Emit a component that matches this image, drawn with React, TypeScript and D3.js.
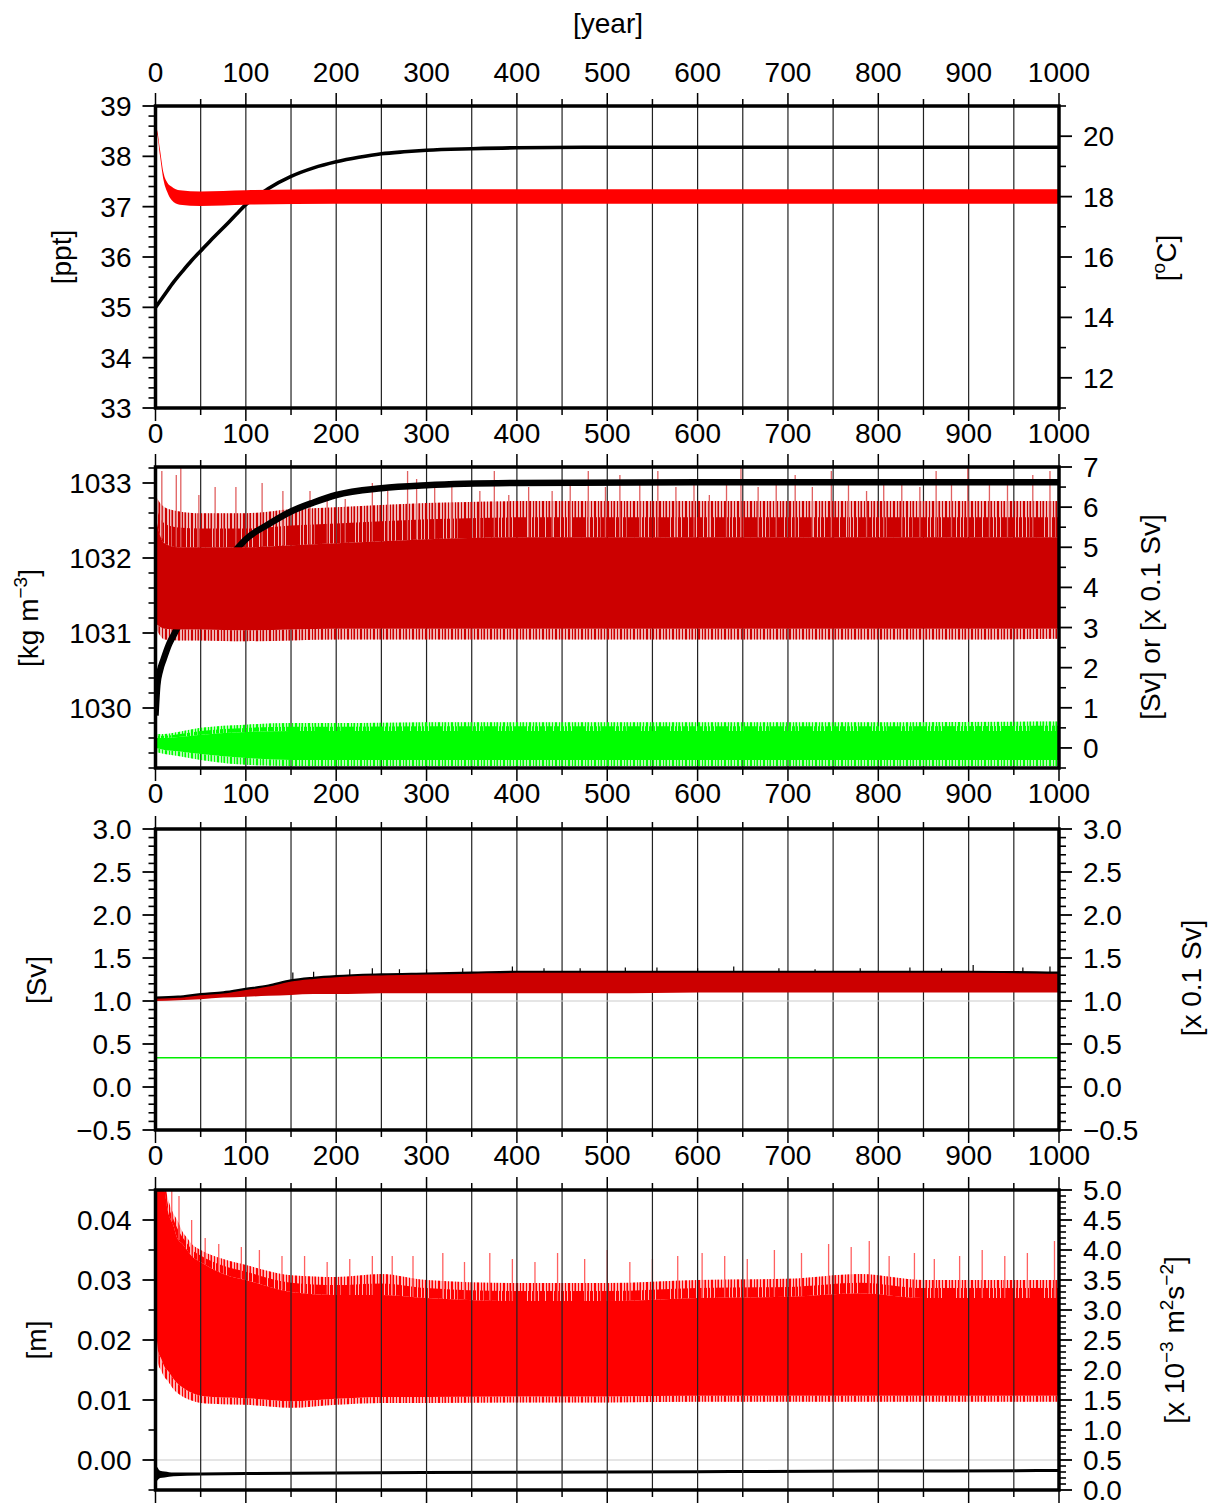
import React from "react";
import * as d3 from "d3";

const WIDTH = 1214;
const HEIGHT = 1503;
const PLOT_LEFT = 155.5;
const PLOT_RIGHT = 1059;
const FONT = "'Liberation Sans', Arial, Helvetica, sans-serif";
const FONT_SIZE = 28;

// ---- time axis ----
const YEAR_MAJOR = [0, 100, 200, 300, 400, 500, 600, 700, 800, 900, 1000];
const YEAR_LABELS = ["0", "100", "200", "300", "400", "500", "600", "700", "800", "900", "1000"];
const YEAR_MINOR = [50, 150, 250, 350, 450, 550, 650, 750, 850, 950];
const GRID_YEARS = [50, 100, 150, 200, 250, 300, 350, 400, 450, 500, 550, 600, 650, 700, 750, 800, 850, 900, 950];

// ---- panel 1: salinity [ppt] and temperature [°C] ----
const SAL_YEARS = [0, 10, 20, 30, 40, 50, 60, 70, 80, 90, 100, 125, 150, 175, 200, 225, 250, 275, 300, 350, 400, 500, 1000];
const SAL_PPT = [35.0, 35.25, 35.5, 35.72, 35.93, 36.12, 36.31, 36.49, 36.67, 36.86, 37.04, 37.36, 37.6, 37.77, 37.89, 37.98, 38.05, 38.09, 38.12, 38.15, 38.17, 38.18, 38.18];

const TEMP_YEARS = [0, 2, 5, 9, 13, 18, 27, 50, 100, 200, 1000];
const TEMP_HIGH = [20.32, 20.17, 19.55, 18.77, 18.47, 18.33, 18.21, 18.17, 18.21, 18.24, 18.24];
const TEMP_LOW = [20.18, 20.03, 19.35, 18.53, 18.15, 17.88, 17.73, 17.69, 17.73, 17.76, 17.76];

// ---- panel 2: density [kg m-3], overturning [Sv], gyre [0.1 Sv] ----
const DENS_YEARS = [0, 2, 5, 9, 15, 20, 30, 40, 50, 60, 70, 80, 90, 100, 125, 150, 175, 200, 250, 300, 400, 600, 1000];
const DENS = [1029.9, 1030.3, 1030.5, 1030.65, 1030.85, 1030.97, 1031.2, 1031.38, 1031.55, 1031.7, 1031.85, 1031.98, 1032.12, 1032.25, 1032.45, 1032.62, 1032.74, 1032.84, 1032.93, 1032.97, 1033.0, 1033.01, 1033.01];

const MOC_YEARS = [0, 5, 10, 25, 50, 100, 150, 200, 300, 400, 500, 600, 700, 800, 900, 1000];
const MOC_OUTER_LOW = [3.0, 2.8, 2.7, 2.68, 2.68, 2.66, 2.68, 2.7, 2.7, 2.7, 2.7, 2.7, 2.7, 2.7, 2.7, 2.72];
const MOC_CORE_LOW = [3.1, 3.02, 2.97, 2.95, 2.95, 2.93, 2.95, 2.97, 2.97, 2.97, 2.97, 2.97, 2.97, 2.97, 2.97, 2.97];
const MOC_CORE_HIGH = [5.8, 5.3, 5.1, 5.0, 5.0, 5.0, 5.05, 5.1, 5.2, 5.25, 5.25, 5.25, 5.25, 5.25, 5.25, 5.25];
const MOC_OUTER_HIGH = [6.3, 6.1, 6.0, 5.9, 5.85, 5.85, 5.95, 6.0, 6.1, 6.15, 6.15, 6.15, 6.15, 6.15, 6.15, 6.15];
const MOC_PEAK_YEARS = [7, 23, 28, 48, 66, 89, 118, 141, 171, 190, 210, 240, 257, 279, 289, 309, 328, 359, 375, 391, 413, 439, 459, 479, 498, 514, 536, 556, 576, 596, 613, 632, 648, 667, 687, 708, 727, 748, 767, 787, 806, 826, 846, 864, 881, 899, 923, 943, 971, 990];
const MOC_PEAKS = [6.9, 6.8, 7.0, 6.3, 6.5, 6.5, 6.6, 6.4, 6.4, 6.3, 6.2, 6.6, 6.4, 6.9, 6.7, 6.5, 6.6, 6.4, 6.9, 6.3, 6.5, 6.4, 6.6, 6.9, 6.5, 6.8, 6.6, 6.9, 6.5, 6.7, 6.3, 6.6, 7.0, 6.5, 6.6, 6.8, 6.5, 6.9, 6.6, 6.4, 6.7, 6.6, 6.5, 6.9, 6.6, 7.0, 6.6, 6.7, 6.8, 6.9];

const GYRE_YEARS = [0, 10, 25, 50, 100, 150, 200, 300, 500, 700, 1000];
const GYRE_OUTER_LOW = [-0.1, -0.15, -0.2, -0.3, -0.42, -0.45, -0.45, -0.45, -0.45, -0.45, -0.45];
const GYRE_CORE_LOW = [0.0, -0.05, -0.08, -0.15, -0.25, -0.3, -0.3, -0.3, -0.3, -0.3, -0.3];
const GYRE_CORE_HIGH = [0.25, 0.25, 0.27, 0.33, 0.4, 0.42, 0.42, 0.42, 0.42, 0.42, 0.42];
const GYRE_OUTER_HIGH = [0.35, 0.35, 0.4, 0.5, 0.58, 0.62, 0.62, 0.64, 0.64, 0.64, 0.66];

// ---- panel 3: transports [Sv] ----
const TR_YEARS = [0, 25, 50, 75, 100, 125, 150, 175, 200, 250, 300, 350, 400, 500, 600, 700, 800, 900, 1000];
const TR_UPPER = [1.04, 1.05, 1.08, 1.1, 1.14, 1.18, 1.24, 1.27, 1.29, 1.31, 1.32, 1.33, 1.34, 1.34, 1.34, 1.34, 1.34, 1.34, 1.33];
const TR_LOWER = [1.0, 1.01, 1.02, 1.04, 1.05, 1.06, 1.07, 1.08, 1.08, 1.09, 1.09, 1.09, 1.09, 1.09, 1.1, 1.1, 1.1, 1.1, 1.1];
const TR_PEAK_YEARS = [152, 175, 215, 240, 270, 300, 340, 395, 430, 470, 520, 555, 600, 640, 690, 730, 780, 835, 870, 905, 960, 990];
const TR_PEAKS = [1.33, 1.34, 1.37, 1.38, 1.37, 1.37, 1.38, 1.4, 1.38, 1.38, 1.39, 1.39, 1.38, 1.4, 1.38, 1.37, 1.38, 1.39, 1.38, 1.42, 1.39, 1.4];
const GREEN_YEARS = [0, 1000];
const GREEN_FLOW = [0.34, 0.34];

// ---- panel 4: sea level [m] and eddy energy [1e-3 m2 s-2] ----
const EKE_YEARS = [0, 3, 6, 10, 13, 20, 24, 30, 35, 40, 50, 75, 100, 150, 200, 250, 300, 400, 500, 600, 700, 780, 850, 1000];
const EKE_OUTER_LOW = [0.022, 0.016, 0.015, 0.0138, 0.0133, 0.0118, 0.0112, 0.0106, 0.0102, 0.0099, 0.0095, 0.0093, 0.0092, 0.0087, 0.0092, 0.0095, 0.0095, 0.0096, 0.0096, 0.0097, 0.0097, 0.0097, 0.0097, 0.0097];
const EKE_CORE_LOW = [0.024, 0.018, 0.017, 0.0155, 0.015, 0.0135, 0.0128, 0.0121, 0.0116, 0.0112, 0.0107, 0.0104, 0.0103, 0.0098, 0.0102, 0.0105, 0.0105, 0.0106, 0.0106, 0.0107, 0.0107, 0.0107, 0.0107, 0.0107];
const EKE_CORE_HIGH = [0.046, 0.046, 0.046, 0.045, 0.042, 0.039, 0.037, 0.036, 0.035, 0.034, 0.033, 0.031, 0.030, 0.028, 0.0275, 0.0275, 0.027, 0.0265, 0.0265, 0.027, 0.0272, 0.0278, 0.027, 0.027];
const EKE_OUTER_HIGH = [0.046, 0.046, 0.046, 0.046, 0.044, 0.041, 0.04, 0.038, 0.037, 0.036, 0.035, 0.0335, 0.0325, 0.0308, 0.0305, 0.031, 0.030, 0.0295, 0.0295, 0.03, 0.0302, 0.031, 0.030, 0.030];
const EKE_PEAK_YEARS = [18, 26, 40, 55, 70, 95, 115, 140, 165, 190, 215, 240, 262, 285, 318, 342, 370, 395, 420, 445, 475, 500, 525, 550, 578, 605, 630, 655, 685, 715, 745, 770, 790, 812, 840, 862, 890, 915, 940, 965, 995];
const EKE_PEAKS = [0.045, 0.044, 0.04, 0.037, 0.036, 0.0355, 0.035, 0.034, 0.034, 0.033, 0.0335, 0.034, 0.034, 0.034, 0.0345, 0.033, 0.0345, 0.0335, 0.033, 0.0345, 0.0335, 0.035, 0.033, 0.0335, 0.034, 0.0345, 0.034, 0.0335, 0.035, 0.0345, 0.036, 0.0355, 0.0365, 0.034, 0.0345, 0.0335, 0.034, 0.035, 0.034, 0.0345, 0.0365];

const SSH_YEARS = [0, 2, 5, 10, 20, 50, 100, 200, 400, 600, 800, 1000];
const SSH_HIGH = [-0.0008, -0.0012, -0.0018, -0.0019, -0.0021, -0.0021, -0.002, -0.0019, -0.0018, -0.0017, -0.0016, -0.0015];
const SSH_LOW = [-0.0036, -0.0034, -0.003, -0.0029, -0.0027, -0.0026, -0.0025, -0.0024, -0.0023, -0.0022, -0.0021, -0.002];

// ---- tick labels ----
const P1_LEFT_MAJOR = [33, 34, 35, 36, 37, 38, 39];
const P1_LEFT_LABELS = ["33", "34", "35", "36", "37", "38", "39"];
const P1_RIGHT_MAJOR = [12, 14, 16, 18, 20];
const P1_RIGHT_LABELS = ["12", "14", "16", "18", "20"];
const P2_LEFT_MAJOR = [1030, 1031, 1032, 1033];
const P2_LEFT_LABELS = ["1030", "1031", "1032", "1033"];
const P2_RIGHT_MAJOR = [0, 1, 2, 3, 4, 5, 6, 7];
const P2_RIGHT_LABELS = ["0", "1", "2", "3", "4", "5", "6", "7"];
const P3_MAJOR = [-0.5, 0, 0.5, 1, 1.5, 2, 2.5, 3];
const P3_LABELS = ["\u22120.5", "0.0", "0.5", "1.0", "1.5", "2.0", "2.5", "3.0"];
const P4_LEFT_MAJOR = [0, 0.01, 0.02, 0.03, 0.04];
const P4_LEFT_LABELS = ["0.00", "0.01", "0.02", "0.03", "0.04"];
const P4_RIGHT_MAJOR = [0, 0.5, 1, 1.5, 2, 2.5, 3, 3.5, 4, 4.5, 5];
const P4_RIGHT_LABELS = ["0.0", "0.5", "1.0", "1.5", "2.0", "2.5", "3.0", "3.5", "4.0", "4.5", "5.0"];

type Scale = d3.ScaleLinear<number, number>;

const x = d3.scaleLinear().domain([0, 1000]).range([PLOT_LEFT, PLOT_RIGHT]);

const P1 = { top: 106, bottom: 408 };
const P2 = { top: 467, bottom: 768 };
const P3 = { top: 829, bottom: 1130 };
const P4 = { top: 1190, bottom: 1490 };

const y1L = d3.scaleLinear().domain([33, 39]).range([P1.bottom, P1.top]);
const y1R = d3.scaleLinear().domain([11, 21]).range([P1.bottom, P1.top]);
const y2L = d3.scaleLinear().domain([1029.2, 1033.2133]).range([P2.bottom, P2.top]);
const y2R = d3.scaleLinear().domain([-0.5, 7]).range([P2.bottom, P2.top]);
const y3 = d3.scaleLinear().domain([-0.5, 3]).range([P3.bottom, P3.top]);
const y4L = d3.scaleLinear().domain([-0.005, 0.045]).range([P4.bottom, P4.top]);
const y4R = d3.scaleLinear().domain([0, 5]).range([P4.bottom, P4.top]);

function minorTicks(lo: number, hi: number, step: number, majors: number[]) {
  const n = Math.round((hi - lo) / step);
  const out: number[] = [];
  for (let i = 0; i <= n; i++) {
    const v = lo + i * step;
    if (!majors.some((m) => Math.abs(m - v) < step * 1e-3)) out.push(v);
  }
  return out;
}

type Row = { t: number; lo: number; hi: number };

function bandPath(years: number[], lo: number[], hi: number[], ys: Scale) {
  const rows: Row[] = years.map((t, i) => ({ t, lo: lo[i], hi: hi[i] }));
  return (
    d3
      .area<Row>()
      .x((d) => x(d.t))
      .y0((d) => ys(d.lo))
      .y1((d) => ys(d.hi))
      .curve(d3.curveMonotoneX)(rows) || ""
  );
}

// band between two series blended at fractions a and b (0 = first, 1 = second)
function blendPath(years: number[], s0: number[], s1: number[], a: number, b: number, ys: Scale) {
  const lo = s0.map((v, i) => v + (s1[i] - v) * a);
  const hi = s0.map((v, i) => v + (s1[i] - v) * b);
  return bandPath(years, lo, hi, ys);
}

function linePath(years: number[], vals: number[], ys: Scale) {
  const rows = years.map((t, i) => ({ t, v: vals[i] }));
  return (
    d3
      .line<{ t: number; v: number }>()
      .x((d) => x(d.t))
      .y((d) => ys(d.v))
      .curve(d3.curveMonotoneX)(rows) || ""
  );
}

function Spikes({ years, peaks, baseYears, base, ys, color, width }: { years: number[]; peaks: number[]; baseYears: number[]; base: number[]; ys: Scale; color: string; width: number }) {
  const baseAt = d3.scaleLinear().domain(baseYears).range(base);
  return (
    <g>
      {years.map((t, i) => (
        <line key={i} x1={x(t)} x2={x(t)} y1={ys(baseAt(t))} y2={ys(peaks[i])} stroke={color} strokeWidth={width} />
      ))}
    </g>
  );
}

type BandProps = { years: number[]; outerLow: number[]; coreLow: number[]; coreHigh: number[]; outerHigh: number[]; ys: Scale; color: string; id: string };

// ragged edges of a noisy band: hatched transition above and below the core
function BandFringe({ years, outerLow, coreLow, coreHigh, outerHigh, ys, color, id }: BandProps) {
  return (
    <g>
      <path d={blendPath(years, coreHigh, outerHigh, 0, 1, ys)} fill={color} opacity={0.28} />
      <path d={blendPath(years, coreHigh, outerHigh, 0, 1, ys)} fill={`url(#${id}-sparse)`} />
      <path d={blendPath(years, coreHigh, outerHigh, 0, 0.55, ys)} fill={`url(#${id}-dense)`} />
      <path d={blendPath(years, coreLow, outerLow, 0, 1, ys)} fill={color} opacity={0.3} />
      <path d={blendPath(years, coreLow, outerLow, 0, 1, ys)} fill={`url(#${id}-sparse)`} />
    </g>
  );
}

function BandCore({ years, coreLow, coreHigh, ys, color }: BandProps) {
  return <path d={bandPath(years, coreLow, coreHigh, ys)} fill={color} />;
}

function HatchDefs({ id, color }: { id: string; color: string }) {
  return (
    <>
      <pattern id={`${id}-dense`} width={11} height={10} patternUnits="userSpaceOnUse">
        <rect x={0} y={0} width={3} height={10} fill={color} />
        <rect x={4} y={0} width={2} height={10} fill={color} />
        <rect x={7} y={0} width={3} height={10} fill={color} />
      </pattern>
      <pattern id={`${id}-sparse`} width={13} height={10} patternUnits="userSpaceOnUse">
        <rect x={0} y={0} width={1} height={10} fill={color} />
        <rect x={2.5} y={0} width={1.5} height={10} fill={color} />
        <rect x={6} y={0} width={1} height={10} fill={color} />
        <rect x={9} y={0} width={2} height={10} fill={color} />
      </pattern>
    </>
  );
}

function YAxis({ scale, side, major, labels, minor }: { scale: Scale; side: "left" | "right"; major: number[]; labels: string[]; minor: number[] }) {
  const x0 = side === "left" ? PLOT_LEFT : PLOT_RIGHT;
  const dir = side === "left" ? -1 : 1;
  return (
    <g>
      {minor.map((v, i) => (
        <line key={"m" + i} x1={x0} x2={x0 + dir * 7} y1={scale(v)} y2={scale(v)} stroke="#000" strokeWidth={1.6} />
      ))}
      {major.map((v, i) => (
        <g key={"M" + i}>
          <line x1={x0} x2={x0 + dir * 13} y1={scale(v)} y2={scale(v)} stroke="#000" strokeWidth={1.8} />
          <text x={x0 + dir * 24} y={scale(v)} dy="0.36em" textAnchor={side === "left" ? "end" : "start"}>
            {labels[i]}
          </text>
        </g>
      ))}
    </g>
  );
}

function XAxis({ top, bottom, labelTop, labelBottom }: { top: number; bottom: number; labelTop?: boolean; labelBottom?: boolean }) {
  return (
    <g>
      {YEAR_MAJOR.map((t) => (
        <g key={"M" + t}>
          <line x1={x(t)} x2={x(t)} y1={top - 13} y2={top} stroke="#000" strokeWidth={1.5} />
          <line x1={x(t)} x2={x(t)} y1={bottom} y2={bottom + 13} stroke="#000" strokeWidth={1.5} />
        </g>
      ))}
      {YEAR_MINOR.map((t) => (
        <g key={"m" + t}>
          <line x1={x(t)} x2={x(t)} y1={top - 7} y2={top} stroke="#000" strokeWidth={1.5} />
          <line x1={x(t)} x2={x(t)} y1={bottom} y2={bottom + 7} stroke="#000" strokeWidth={1.5} />
        </g>
      ))}
      {labelTop &&
        YEAR_MAJOR.map((t, i) => (
          <text key={"lt" + t} x={x(t)} y={top - 24} textAnchor="middle">
            {YEAR_LABELS[i]}
          </text>
        ))}
      {labelBottom &&
        YEAR_MAJOR.map((t, i) => (
          <text key={"lb" + t} x={x(t)} y={bottom + 35} textAnchor="middle">
            {YEAR_LABELS[i]}
          </text>
        ))}
    </g>
  );
}

function Grid({ top, bottom }: { top: number; bottom: number }) {
  return (
    <g>
      {GRID_YEARS.map((t) => (
        <line key={t} x1={x(t)} x2={x(t)} y1={top} y2={bottom} stroke="#222" strokeWidth={1.2} />
      ))}
    </g>
  );
}

function Frame({ top, bottom }: { top: number; bottom: number }) {
  return <rect x={PLOT_LEFT} y={top} width={PLOT_RIGHT - PLOT_LEFT} height={bottom - top} fill="none" stroke="#000" strokeWidth={3.5} />;
}

function VLabel({ cx, cy, children }: { cx: number; cy: number; children: React.ReactNode }) {
  return (
    <text transform={`translate(${cx},${cy}) rotate(-90)`} textAnchor="middle" dy="0.36em">
      {children}
    </text>
  );
}

function Sup({ t }: { t: string }) {
  return (
    <tspan dy={-11} fontSize={19}>
      {t}
    </tspan>
  );
}

export default function App() {
  const clip = (id: string, p: { top: number; bottom: number }) => (
    <clipPath id={id}>
      <rect x={PLOT_LEFT} y={p.top} width={PLOT_RIGHT - PLOT_LEFT} height={p.bottom - p.top} />
    </clipPath>
  );

  const gyre: BandProps = { years: GYRE_YEARS, outerLow: GYRE_OUTER_LOW, coreLow: GYRE_CORE_LOW, coreHigh: GYRE_CORE_HIGH, outerHigh: GYRE_OUTER_HIGH, ys: y2R, color: "#00ff00", id: "green" };
  const moc: BandProps = { years: MOC_YEARS, outerLow: MOC_OUTER_LOW, coreLow: MOC_CORE_LOW, coreHigh: MOC_CORE_HIGH, outerHigh: MOC_OUTER_HIGH, ys: y2R, color: "#cc0000", id: "dred" };
  const eke: BandProps = { years: EKE_YEARS, outerLow: EKE_OUTER_LOW, coreLow: EKE_CORE_LOW, coreHigh: EKE_CORE_HIGH, outerHigh: EKE_OUTER_HIGH, ys: y4L, color: "#ff0000", id: "red" };

  return (
    <svg
      width={WIDTH}
      height={HEIGHT}
      viewBox={`0 0 ${WIDTH} ${HEIGHT}`}
      style={{ position: "absolute", left: 0, top: 0, background: "#fff" }}
      fontFamily={FONT}
      fontSize={FONT_SIZE}
      fill="#000"
    >
      <defs>
        {clip("c1", P1)}
        {clip("c2", P2)}
        {clip("c3", P3)}
        {clip("c4", P4)}
        <HatchDefs id="dred" color="#cc0000" />
        <HatchDefs id="red" color="#ff0000" />
        <HatchDefs id="green" color="#00ff00" />
      </defs>
      <rect x={0} y={0} width={WIDTH} height={HEIGHT} fill="#fff" />

      <text x={608} y={33} textAnchor="middle">
        [year]
      </text>

      {/* Panel 1: salinity and temperature */}
      <g clipPath="url(#c1)">
        <Grid {...P1} />
        <path d={linePath(SAL_YEARS, SAL_PPT, y1L)} fill="none" stroke="#000" strokeWidth={3.6} />
        <path d={bandPath(TEMP_YEARS, TEMP_LOW, TEMP_HIGH, y1R)} fill="#ff0000" />
      </g>
      <Frame {...P1} />
      <XAxis {...P1} labelTop labelBottom />
      <YAxis scale={y1L} side="left" major={P1_LEFT_MAJOR} labels={P1_LEFT_LABELS} minor={minorTicks(33, 39, 0.2, P1_LEFT_MAJOR)} />
      <YAxis scale={y1R} side="right" major={P1_RIGHT_MAJOR} labels={P1_RIGHT_LABELS} minor={[11, 13, 15, 17, 19, 21]} />
      <VLabel cx={61} cy={257}>[ppt]</VLabel>
      <VLabel cx={1166} cy={258}>
        [<Sup t="o" />
        <tspan dy={11}>C]</tspan>
      </VLabel>

      {/* Panel 2: density, overturning and gyre */}
      <g clipPath="url(#c2)">
        <Grid {...P2} />
        <BandFringe {...gyre} />
        <BandCore {...gyre} />
        <BandFringe {...moc} />
        <Spikes years={MOC_PEAK_YEARS} peaks={MOC_PEAKS} baseYears={MOC_YEARS} base={MOC_CORE_HIGH} ys={y2R} color="#e06060" width={1.3} />
        <path d={linePath(DENS_YEARS, DENS, y2L)} fill="none" stroke="#000" strokeWidth={6.5} />
        <BandCore {...moc} />
      </g>
      <Frame {...P2} />
      <XAxis {...P2} labelBottom />
      <YAxis scale={y2L} side="left" major={P2_LEFT_MAJOR} labels={P2_LEFT_LABELS} minor={minorTicks(1029.2, 1033.2, 0.2, P2_LEFT_MAJOR)} />
      <YAxis scale={y2R} side="right" major={P2_RIGHT_MAJOR} labels={P2_RIGHT_LABELS} minor={minorTicks(-0.5, 6.5, 1, [])} />
      <VLabel cx={28} cy={618}>
        [kg m<Sup t={"\u22123"} />
        <tspan dy={11}>]</tspan>
      </VLabel>
      <VLabel cx={1150} cy={617}>[Sv] or [x 0.1 Sv]</VLabel>

      {/* Panel 3: transports */}
      <g clipPath="url(#c3)">
        <Grid {...P3} />
        <line x1={PLOT_LEFT} x2={PLOT_RIGHT} y1={y3(1)} y2={y3(1)} stroke="#cccccc" strokeWidth={1.2} />
        <path d={linePath(GREEN_YEARS, GREEN_FLOW, y3)} fill="none" stroke="#00ee00" strokeWidth={1.6} />
        <path d={bandPath(TR_YEARS, TR_LOWER, TR_UPPER, y3)} fill="#cc0000" />
        <Spikes years={TR_PEAK_YEARS} peaks={TR_PEAKS} baseYears={TR_YEARS} base={TR_UPPER} ys={y3} color="#000" width={1.2} />
        <path d={linePath(TR_YEARS, TR_UPPER, y3)} fill="none" stroke="#000" strokeWidth={2.2} />
      </g>
      <Frame {...P3} />
      <XAxis {...P3} labelBottom />
      <YAxis scale={y3} side="left" major={P3_MAJOR} labels={P3_LABELS} minor={minorTicks(-0.5, 3, 0.1, P3_MAJOR)} />
      <YAxis scale={y3} side="right" major={P3_MAJOR} labels={P3_LABELS} minor={minorTicks(-0.5, 3, 0.1, P3_MAJOR)} />
      <VLabel cx={36} cy={980}>[Sv]</VLabel>
      <VLabel cx={1191} cy={978}>[x 0.1 Sv]</VLabel>

      {/* Panel 4: sea level and eddy energy */}
      <g clipPath="url(#c4)">
        <line x1={PLOT_LEFT} x2={PLOT_RIGHT} y1={y4L(0)} y2={y4L(0)} stroke="#cccccc" strokeWidth={1.2} />
        <BandFringe {...eke} />
        <BandCore {...eke} />
        <Spikes years={EKE_PEAK_YEARS} peaks={EKE_PEAKS} baseYears={EKE_YEARS} base={EKE_CORE_HIGH} ys={y4L} color="#ff6060" width={1.3} />
        <path d={bandPath(SSH_YEARS, SSH_LOW, SSH_HIGH, y4L)} fill="#000" />
        <Grid {...P4} />
      </g>
      <Frame {...P4} />
      <XAxis {...P4} />
      <YAxis scale={y4L} side="left" major={P4_LEFT_MAJOR} labels={P4_LEFT_LABELS} minor={minorTicks(-0.005, 0.045, 0.005, P4_LEFT_MAJOR)} />
      <YAxis scale={y4R} side="right" major={P4_RIGHT_MAJOR} labels={P4_RIGHT_LABELS} minor={minorTicks(0, 5, 0.1, P4_RIGHT_MAJOR)} />
      <VLabel cx={36} cy={1340}>[m]</VLabel>
      <VLabel cx={1174} cy={1340}>
        [x 10<Sup t={"\u22123"} />
        <tspan dy={11}> m</tspan>
        <Sup t="2" />
        <tspan dy={11}>s</tspan>
        <Sup t={"\u22122"} />
        <tspan dy={11}>]</tspan>
      </VLabel>
    </svg>
  );
}
